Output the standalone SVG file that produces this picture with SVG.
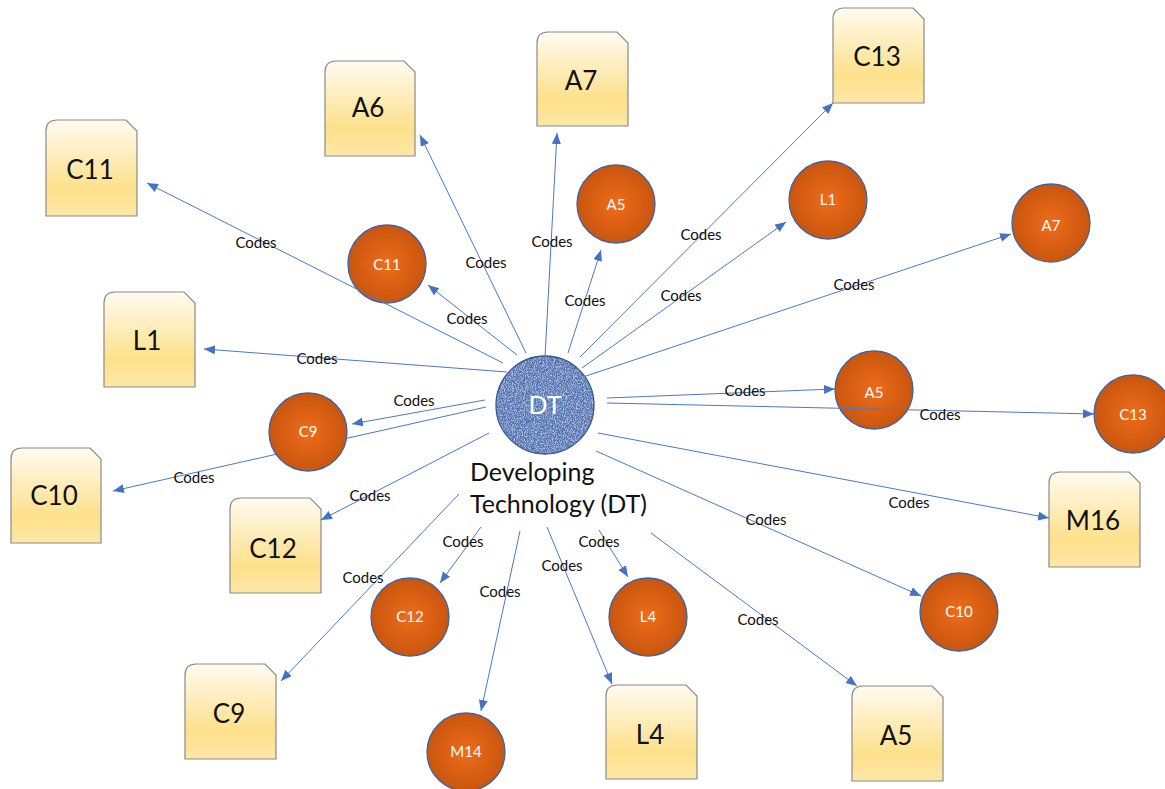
<svg xmlns="http://www.w3.org/2000/svg" width="1165" height="789" viewBox="0 0 1165 789">
  <style>
    .doc path { fill: url(#docFill); stroke: #8a8a8a; stroke-width: 1.2; }
    .doc text { font-family: Lato, "Liberation Sans", sans-serif; font-size: 26px; fill: #111; text-anchor: middle; }
    .code circle { fill: url(#orangeFill); stroke: #3f62a6; stroke-width: 1.3; }
    .code text { font-family: Lato, "Liberation Sans", sans-serif; font-size: 15px; fill: #fff; text-anchor: middle; }
    .link { fill: none; stroke: #4a78c8; stroke-width: 1; marker-end: url(#tip); }
    .lbl { font-family: Lato, "Liberation Sans", sans-serif; font-size: 15px; fill: #111; text-anchor: middle; }
    .title { font-family: Lato, "Liberation Sans", sans-serif; font-size: 25px; fill: #111; }
  </style>
  <defs>
    <linearGradient id="docFill" x1="0" y1="0" x2="0" y2="1">
      <stop offset="0" stop-color="#fffbf0"/>
      <stop offset="0.72" stop-color="#fde08a"/>
      <stop offset="1" stop-color="#fde8a8"/>
    </linearGradient>
    <radialGradient id="orangeFill" cx="0.5" cy="0.5" r="0.5">
      <stop offset="0" stop-color="#ef6c1a"/>
      <stop offset="1" stop-color="#c9560f"/>
    </radialGradient>
    <marker id="tip" markerUnits="userSpaceOnUse" markerWidth="12" markerHeight="10" refX="11" refY="4.5" orient="auto">
      <path d="M0,0 L11,4.5 L0,9 Z" fill="#4472c4"/>
    </marker>
    <!-- woven texture for the central technology node -->
    <filter id="weave" x="0" y="0" width="100%" height="100%">
      <feTurbulence type="fractalNoise" baseFrequency="1.1 0.6" numOctaves="2" seed="4" result="noise"/>
      <feColorMatrix in="noise" type="matrix" values="0 0 0 0 0.72  0 0 0 0 0.8  0 0 0 0 0.95  0 0 0 1.8 -0.75" result="specks"/>
      <feComposite in="specks" in2="SourceGraphic" operator="atop"/>
    </filter>
  </defs>

  <!-- document nodes -->
  <g id="doc-C11" class="doc"><path d="M46,216 V131 Q46,120 57,120 H126 L137,131 V216 Z"/><text x="90" y="179">C11</text></g>
  <g id="doc-A6" class="doc"><path d="M325,156 V72 Q325,61 336,61 H404 L415,72 V156 Z"/><text x="368" y="117">A6</text></g>
  <g id="doc-A7" class="doc"><path d="M537,126 V43 Q537,32 548,32 H617 L628,43 V126 Z"/><text x="581" y="90">A7</text></g>
  <g id="doc-C13" class="doc"><path d="M833,103 V19 Q833,8 844,8 H913 L924,19 V103 Z"/><text x="877" y="66">C13</text></g>
  <g id="doc-L1" class="doc"><path d="M104,387 V303 Q104,292 115,292 H184 L195,303 V387 Z"/><text x="147" y="350">L1</text></g>
  <g id="doc-C10" class="doc"><path d="M11,543 V459 Q11,448 22,448 H90 L101,459 V543 Z"/><text x="54" y="505">C10</text></g>
  <g id="doc-C12" class="doc"><path d="M230,593 V509 Q230,498 241,498 H310 L321,509 V593 Z"/><text x="273" y="558">C12</text></g>
  <g id="doc-C9" class="doc"><path d="M185,759 V675 Q185,664 196,664 H265 L276,675 V759 Z"/><text x="229" y="723">C9</text></g>
  <g id="doc-L4" class="doc"><path d="M606,779 V696 Q606,685 617,685 H686 L697,696 V779 Z"/><text x="650" y="744">L4</text></g>
  <g id="doc-A5" class="doc"><path d="M852,781 V697 Q852,686 863,686 H932 L943,697 V781 Z"/><text x="896" y="745">A5</text></g>
  <g id="doc-M16" class="doc"><path d="M1049,567 V483 Q1049,472 1060,472 H1129 L1140,483 V567 Z"/><text x="1093" y="530">M16</text></g>

  <!-- code nodes -->
  <g id="code-C11" class="code"><circle cx="387" cy="264" r="39"/><text x="387" y="270">C11</text></g>
  <g id="code-A5-top" class="code"><circle cx="616" cy="204" r="39"/><text x="616" y="210" font-size="14">A5</text></g>
  <g id="code-L1" class="code"><circle cx="828" cy="200" r="39"/><text x="828" y="205" font-size="14">L1</text></g>
  <g id="code-A7" class="code"><circle cx="1051" cy="223" r="39"/><text x="1051" y="231" font-size="21">A7</text></g>
  <g id="code-A5-mid" class="code"><circle cx="874" cy="390" r="39"/><text x="874" y="398" font-size="21">A5</text></g>
  <g id="code-C13" class="code"><circle cx="1133" cy="414" r="39"/><text x="1133" y="420" font-size="16">C13</text></g>
  <g id="code-C9" class="code"><circle cx="308" cy="432" r="39"/><text x="308" y="437" font-size="14">C9</text></g>
  <g id="code-C12" class="code"><circle cx="410" cy="617" r="39"/><text x="410" y="622">C12</text></g>
  <g id="code-M14" class="code"><circle cx="466" cy="752" r="39"/><text x="466" y="757">M14</text></g>
  <g id="code-L4" class="code"><circle cx="648" cy="617" r="39"/><text x="648" y="622" font-size="14">L4</text></g>
  <g id="code-C10" class="code"><circle cx="959" cy="612" r="39"/><text x="959" y="617">C10</text></g>

  <!-- central node -->
  <g id="node-DT">
    <circle cx="545" cy="405" r="49" fill="#5073b3" filter="url(#weave)"/>
    <circle cx="545" cy="405" r="49" fill="none" stroke="#3a5589" stroke-width="1.3"/>
    <text x="545" y="414" font-family="Lato, 'Liberation Sans', sans-serif" font-size="25" fill="#fff" text-anchor="middle">DT</text>
    <text class="title" x="470" y="481">Developing</text>
    <text class="title" x="470" y="513">Technology (DT)</text>
  </g>

  <!-- connectors -->
  <g id="connectors">
    <path class="link" d="M503,363 L147,183"/>
    <path class="link" d="M517,355 L428,285"/>
    <path class="link" d="M526,353 L420,135"/>
    <path class="link" d="M507,372 L204,349"/>
    <path class="link" d="M545,357 L557,133"/>
    <path class="link" d="M568,353 L601,250"/>
    <path class="link" d="M580,357 L833,103"/>
    <path class="link" d="M582,368 L786,222"/>
    <path class="link" d="M583,377 L1011,234"/>
    <path class="link" d="M607,398 L835,389"/>
    <path class="link" d="M607,403 L1094,414"/>
    <path class="link" d="M598,433 L1049,518"/>
    <path class="link" d="M596,451 L921,596"/>
    <path class="link" d="M651,533 L857,686"/>
    <path class="link" d="M599,530 L628,577"/>
    <path class="link" d="M547,527 L612,684"/>
    <path class="link" d="M520,531 L481,711"/>
    <path class="link" d="M481,527 L440,583"/>
    <path class="link" d="M459,494 L281,681"/>
    <path class="link" d="M489,433 L321,520"/>
    <path class="link" d="M485,400 L352,424"/>
    <!-- passes behind the C9 code node -->
    <path class="link" d="M486,407 L346.5,438.4 M276,454.3 L113,491"/>
  </g>

  <!-- connector labels -->
  <g id="connector-labels">
    <text class="lbl" x="256" y="248">Codes</text>
    <text class="lbl" x="467" y="324">Codes</text>
    <text class="lbl" x="486" y="268">Codes</text>
    <text class="lbl" x="317" y="364">Codes</text>
    <text class="lbl" x="552" y="247">Codes</text>
    <text class="lbl" x="585" y="306">Codes</text>
    <text class="lbl" x="701" y="240">Codes</text>
    <text class="lbl" x="681" y="301">Codes</text>
    <text class="lbl" x="854" y="290">Codes</text>
    <text class="lbl" x="745" y="396">Codes</text>
    <text class="lbl" x="940" y="420">Codes</text>
    <text class="lbl" x="909" y="508">Codes</text>
    <text class="lbl" x="766" y="525">Codes</text>
    <text class="lbl" x="758" y="625">Codes</text>
    <text class="lbl" x="599" y="547">Codes</text>
    <text class="lbl" x="562" y="571">Codes</text>
    <text class="lbl" x="500" y="597">Codes</text>
    <text class="lbl" x="463" y="547">Codes</text>
    <text class="lbl" x="363" y="583">Codes</text>
    <text class="lbl" x="370" y="501">Codes</text>
    <text class="lbl" x="414" y="406">Codes</text>
    <text class="lbl" x="194" y="483">Codes</text>
  </g>
</svg>
